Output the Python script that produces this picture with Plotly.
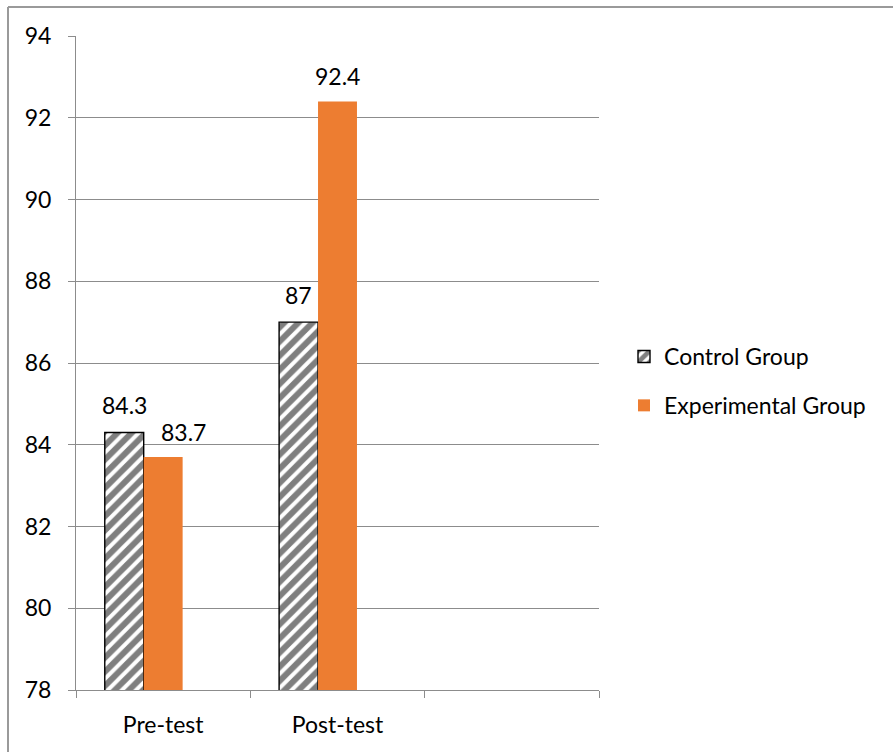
import plotly.graph_objects as go

categories = ["Pre-test", "Post-test", " "]
control = [84.3, 87.0, None]
experimental = [83.7, 92.4, None]
control_labels = ["84.3", "87", ""]
experimental_labels = ["83.7", "92.4", ""]

W, H = 894, 752
L, R, T, B = 76, 295, 36, 62
pw, ph = W - L - R, H - T - B
BARGAP = 0.33
bar_px = pw / 3 * (1 - BARGAP) / 3

def px(x):
    return (x - L) / pw

def py(y):
    return (H - B - y) / ph

FONT = "Lato"
FS = 23

fig = go.Figure()
fig.add_trace(go.Bar(
    x=categories, y=control, name="Control Group",
    marker=dict(color="white", line=dict(color="black", width=1.4),
                pattern=dict(shape="/", fgcolor="black", bgcolor="white", size=10, solidity=0.6)),
    cliponaxis=False, legendgroup="a",
))
fig.add_trace(go.Bar(
    x=categories, y=experimental, name="Experimental Group",
    marker=dict(color="#ED7D31", line=dict(width=0)),
    cliponaxis=False, legendgroup="b",
))
fig.add_trace(go.Bar(
    x=categories, y=[None, None, None], name="", showlegend=False,
    marker=dict(color="rgba(0,0,0,0)"),
))

annotations = []
for c, v, t in zip(categories, control, control_labels):
    if v is not None:
        annotations.append(dict(x=c, y=v, text=t, showarrow=False, xshift=-bar_px, yshift=27,
                                font=dict(family=FONT, size=FS, color="black")))
for i, (c, v, t) in enumerate(zip(categories, experimental, experimental_labels)):
    if v is not None:
        # first label is nudged right to avoid overlapping the neighbouring label
        annotations.append(dict(x=c, y=v, text=t, showarrow=False, xshift=20 if i == 0 else 0, yshift=25,
                                font=dict(family=FONT, size=FS, color="black")))

fig.update_layout(
    width=W, height=H,
    margin=dict(l=L, r=R, t=T, b=B),
    paper_bgcolor="white", plot_bgcolor="white",
    barmode="group", bargap=BARGAP, bargroupgap=0,
    font=dict(family=FONT, size=FS, color="black"),
    legend=dict(x=px(624), y=py(381), xanchor="left", yanchor="middle",
                font=dict(family=FONT, size=FS, color="black"),
                tracegroupgap=16, bgcolor="rgba(0,0,0,0)"),
    annotations=annotations,
    shapes=[
        dict(type="line", xref="paper", yref="paper", x0=px(8), x1=px(893), y0=py(7), y1=py(7),
             line=dict(color="#9a9a9a", width=2)),
        dict(type="line", xref="paper", yref="paper", x0=px(8), x1=px(8), y0=py(7), y1=py(760),
             line=dict(color="#9a9a9a", width=2)),
    ],
)
fig.update_yaxes(range=[78, 94], dtick=2, showgrid=True, gridcolor="#8c8c8c", gridwidth=1,
                 showline=True, linecolor="#8c8c8c", linewidth=1,
                 ticks="outside", ticklen=7, tickcolor="#8c8c8c",
                 ticklabelstandoff=12, zeroline=False,
                 tickfont=dict(family=FONT, size=FS, color="black"))
fig.update_xaxes(type="category", tickson="boundaries", showline=True, linecolor="#8c8c8c", linewidth=1,
                 ticks="outside", ticklen=7, tickcolor="#8c8c8c", showgrid=False,
                 ticklabelstandoff=14,
                 tickfont=dict(family=FONT, size=FS, color="black"))

fig.write_html("out.html")
